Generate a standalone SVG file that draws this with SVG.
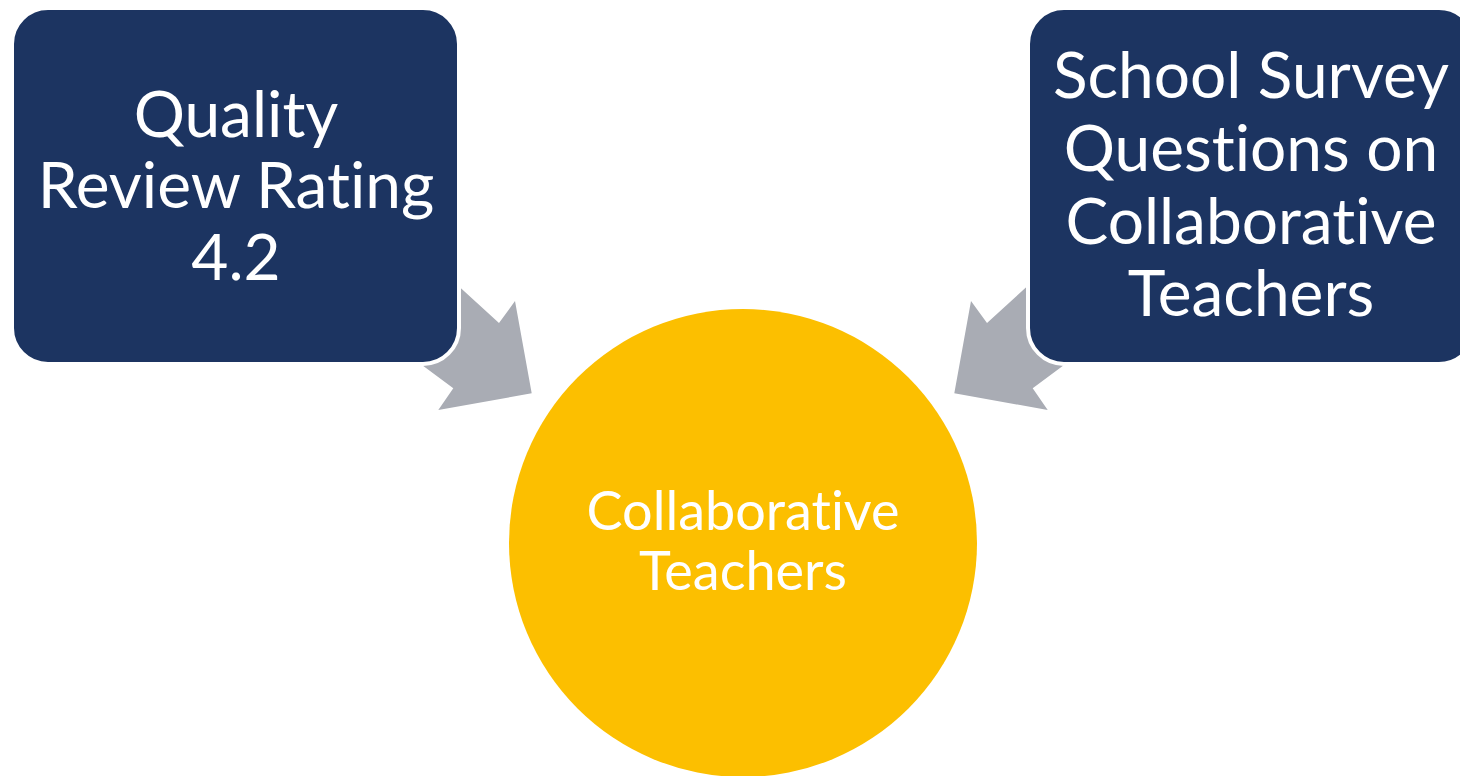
<svg xmlns="http://www.w3.org/2000/svg" width="1460" height="776" viewBox="0 0 1460 776">
<style>
.box{fill:#1c3461;stroke:#ffffff;stroke-width:4}
.arrow{fill:#a9acb4}
.t{fill:#ffffff;font-family:Lato,"Open Sans",sans-serif;text-anchor:middle;font-variant-ligatures:none;font-feature-settings:"liga" 0}
.big{font-size:64px}
.mid{font-size:54px}
</style>
<rect width="1460" height="776" fill="#ffffff"/>
<g id="connectors">
<polygon class="arrow" points="430,260 499,323 515,301 531.7,393.3 438.3,410 453.3,388.3 395,345"/>
<polygon class="arrow" points="1056,260 987,323 971,301 954.3,393.3 1047.7,410 1032.7,388.3 1091,345"/>
</g>
<g id="node-center">
<circle cx="743" cy="543" r="234" fill="#fcbf00"/>
<text class="t mid" x="743" y="530">Collaborative</text>
<text class="t mid" x="743" y="590">Teachers</text>
</g>
<g id="node-quality">
<rect class="box" x="12" y="8" width="447" height="356" rx="36"/>
<text class="t big" x="236" y="137">Quality</text>
<text class="t big" x="236" y="208">Review Rating</text>
<text class="t big" x="236" y="280">4.2</text>
</g>
<g id="node-survey">
<rect class="box" x="1028" y="8" width="447" height="356" rx="36"/>
<text class="t big" x="1251" y="98">School Survey</text>
<text class="t big" x="1251" y="171">Questions on</text>
<text class="t big" x="1251" y="244">Collaborative</text>
<text class="t big" x="1251" y="316">Teachers</text>
</g>
</svg>
